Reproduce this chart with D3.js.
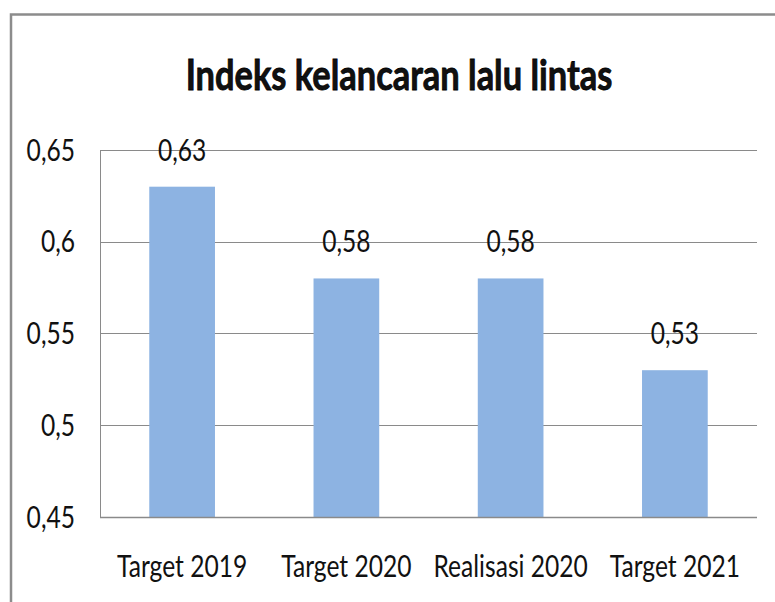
<!DOCTYPE html>
<html>
<head>
<meta charset="utf-8">
<script src="https://cdn.jsdelivr.net/npm/d3@7"></script>
<style>
  html, body { margin: 0; padding: 0; background: #fff; }
  svg { display: block; }
  text { font-family: Lato, "Open Sans", sans-serif; fill: #111; }
</style>
</head>
<body>
<div id="chart"></div>
<script>
// chart data
var categories = ['Target 2019', 'Target 2020', 'Realisasi 2020', 'Target 2021'];
var values = [0.63, 0.58, 0.58, 0.53];
var yTicks = [0.45, 0.5, 0.55, 0.6, 0.65];
var title = 'Indeks kelancaran lalu lintas';

var W = 775, H = 602;
var plotLeft = 100, plotRight = 757, plotTop = 150, plotBottom = 517;
var SX = 0.82; // the picture is squeezed sideways

var svg = d3.select('#chart').append('svg')
	.attr('width', W)
	.attr('height', H);

// frame round the chart (only top and left show)
svg.append('path')
	.attr('d', 'M11,' + H + 'V14.5H' + W)
	.attr('fill', 'none')
	.attr('stroke', '#8c8c8c')
	.attr('stroke-width', 2.5);

var x = d3.scaleBand()
	.domain(categories)
	.range([plotLeft, plotRight])
	.padding(0);

var y = d3.scaleLinear()
	.domain([0.45, 0.65])
	.range([plotBottom, plotTop]);

var fmt = function(v){
	return String(+v.toFixed(2)).replace('.', ',');
};

// gridlines
svg.selectAll('.grid')
	.data(yTicks)
	.enter()
	.append('line')
	.attr('class', 'grid')
	.attr('x1', plotLeft)
	.attr('x2', plotRight)
	.attr('y1', function(d){ return Math.round(y(d)) + 0.5; })
	.attr('y2', function(d){ return Math.round(y(d)) + 0.5; })
	.attr('stroke', '#8a8a8a')
	.attr('stroke-width', 1);

// left axis line
svg.append('line')
	.attr('x1', plotLeft + 0.5)
	.attr('x2', plotLeft + 0.5)
	.attr('y1', plotTop)
	.attr('y2', plotBottom)
	.attr('stroke', '#8a8a8a');

// y tick labels
svg.selectAll('.ytick')
	.data(yTicks)
	.enter()
	.append('text')
	.attr('class', 'ytick')
	.attr('transform', function(d){
		return 'translate(75,' + (y(d) + 10.5) + ') scale(' + SX + ',1)';
	})
	.attr('text-anchor', 'end')
	.attr('font-size', 30)
	.text(function(d){ return fmt(d); });

// bars
var barW = x.bandwidth() * 0.4;
svg.selectAll('.bar')
	.data(values)
	.enter()
	.append('rect')
	.attr('class', 'bar')
	.attr('x', function(d, i){ return x(categories[i]) + (x.bandwidth() - barW) / 2; })
	.attr('y', function(d){ return y(d); })
	.attr('width', barW)
	.attr('height', function(d){ return plotBottom - y(d); })
	.attr('fill', '#8db3e2');

// bottom axis line, over the bars
svg.append('line')
	.attr('x1', plotLeft)
	.attr('x2', plotRight)
	.attr('y1', plotBottom + 0.5)
	.attr('y2', plotBottom + 0.5)
	.attr('stroke', '#8a8a8a')
	.attr('stroke-width', 1.5);

// value labels
svg.selectAll('.vlabel')
	.data(values)
	.enter()
	.append('text')
	.attr('class', 'vlabel')
	.attr('transform', function(d, i){
		return 'translate(' + (x(categories[i]) + x.bandwidth() / 2) + ',' + (y(d) - 26) + ') scale(' + SX + ',1)';
	})
	.attr('text-anchor', 'middle')
	.attr('font-size', 30)
	.text(function(d){ return fmt(d); });

// category labels
svg.selectAll('.xlabel')
	.data(categories)
	.enter()
	.append('text')
	.attr('class', 'xlabel')
	.attr('transform', function(d){
		return 'translate(' + (x(d) + x.bandwidth() / 2) + ',577) scale(' + SX + ',1)';
	})
	.attr('text-anchor', 'middle')
	.attr('font-size', 30)
	.text(function(d){ return d; });

// title, a touch heavier than plain bold
svg.append('text')
	.attr('transform', 'translate(399,90) scale(' + SX + ',1)')
	.attr('text-anchor', 'middle')
	.attr('font-size', 42)
	.attr('font-weight', 'bold')
	.attr('fill', '#000')
	.attr('stroke', '#000')
	.attr('stroke-width', 0.8)
	.text(title);
</script>
</body>
</html>
